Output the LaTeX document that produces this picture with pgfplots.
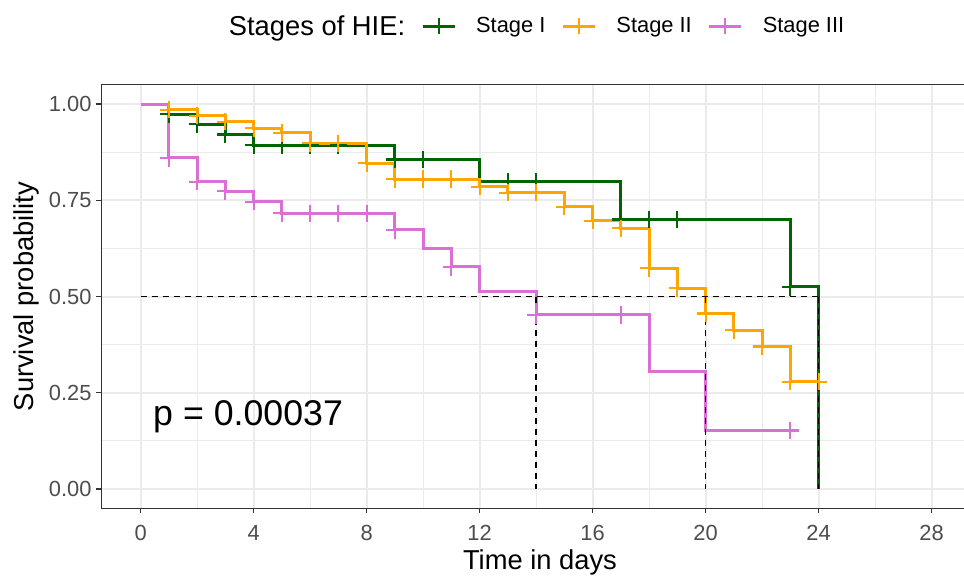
\documentclass[border=0pt]{standalone}
\usepackage{fontspec}
\setmainfont{Liberation Sans}
\usepackage{pgfplots}
\pgfplotsset{compat=1.18}
\definecolor{sI}{RGB}{0,100,0}
\definecolor{sII}{RGB}{255,165,0}
\definecolor{sIII}{RGB}{218,112,214}
\definecolor{gridc}{RGB}{235,235,235}
\definecolor{tickc}{RGB}{77,77,77}
\definecolor{axc}{RGB}{51,51,51}
\begin{document}
\begin{tikzpicture}
\useasboundingbox (-75.86pt,-51.56pt) rectangle (647.14pt,381.19pt);
\begin{axis}[
  scale only axis, width=652.5pt, height=317.6pt,
  xmin=-1.4, xmax=29.4, ymin=-0.05, ymax=1.05,
  xtick={0,4,...,28}, ytick={0,0.25,0.5,0.75,1},
  minor xtick={2,6,10,14,18,22,26}, minor ytick={0.125,0.375,0.625,0.875},
  grid=both,
  major grid style={draw=gridc, line width=1.5pt},
  minor grid style={draw=gridc, line width=0.9pt},
  tick align=outside, major tick length=3.75pt, minor tick length=0pt,
  xtick pos=left, ytick pos=left,
  tick style={axc, line width=0.9pt},
  axis line style={axc, line width=0.9pt},
  /pgf/number format/assume math mode=true,
  ticklabel style={font=\fontsize{16.4}{19}\selectfont, text=tickc},
  xticklabel style={yshift=-5.6pt},
  yticklabel style={/pgf/number format/.cd, fixed, fixed zerofill, precision=2},
  every axis x label/.style={at={(rel axis cs:0.5044,0)}, anchor=base, yshift=-46.3pt, font=\fontsize{20.5}{24}\selectfont},
  every axis y label/.style={at={(rel axis cs:0,0.5)}, xshift=-51.1pt, rotate=90, anchor=base, font=\fontsize{20.5}{24}\selectfont},
  xlabel={Time in days}, ylabel={Survival probability},
  legend image code/.code={\draw[mark repeat=2,mark phase=2,#1] plot coordinates {(0pt,0pt) (12pt,0pt) (24pt,0pt)};},
  legend columns=4,
  legend style={at={(rel axis cs:0.489,1.138)}, anchor=center, draw=none, fill=none,
    font=\fontsize{16.4}{19}\selectfont,
    nodes={inner sep=0pt},
    /tikz/every odd column/.append style={column sep=15pt},
    /tikz/every even column/.append style={column sep=12pt}},
  every axis plot/.append style={line width=2.25pt},
]
\addlegendimage{empty legend}
\addlegendentry{\fontsize{20.5}{24}\selectfont Stages of HIE:\hspace{-3pt}}
\addlegendimage{sI, line width=2.25pt, mark=+, mark size=6pt, mark options={line width=1.5pt}}
\addlegendentry{Stage I}
\addlegendimage{sII, line width=2.25pt, mark=+, mark size=6pt, mark options={line width=1.5pt}}
\addlegendentry{Stage II}
\addlegendimage{sIII, line width=2.25pt, mark=+, mark size=6pt, mark options={line width=1.5pt}}
\addlegendentry{Stage III}

% Stage I
\addplot[sI, const plot, forget plot] coordinates {
(0,1) (1,0.974) (2,0.948) (3,0.921) (4,0.893) (9,0.856) (12,0.798) (17,0.70) (23,0.525) (24,0)};
\addplot[sI, only marks, mark=+, mark size=6.5pt, mark options={line width=1.6pt}, forget plot] coordinates {
(1,0.974) (2,0.948) (3,0.921) (4,0.893) (5,0.893) (6,0.893) (7,0.893) (9,0.856) (10,0.856)
(13,0.798) (14,0.798) (17,0.70) (18,0.70) (19,0.70) (23,0.525)};

% Stage II
\addplot[sII, const plot, forget plot] coordinates {
(0,1) (1,0.985) (2,0.97) (3,0.954) (4,0.937) (5,0.925) (6,0.898) (8,0.846) (9,0.805) (12,0.785)
(13,0.77) (15,0.733) (16,0.697) (17,0.677) (18,0.573) (19,0.521) (20,0.456) (21,0.413) (22,0.37)
(23,0.279) (24,0.279)};
\addplot[sII, only marks, mark=+, mark size=6.5pt, mark options={line width=1.6pt}, forget plot] coordinates {
(1,0.985) (2,0.97) (3,0.954) (4,0.937) (5,0.925) (6,0.898) (7,0.898) (8,0.846) (9,0.805) (10,0.805)
(11,0.805) (12,0.785) (13,0.77) (14,0.77) (15,0.733) (16,0.697) (17,0.677) (18,0.573) (19,0.521)
(20,0.456) (21,0.413) (22,0.37) (23,0.279) (24,0.279)};

% Stage III
\addplot[sIII, const plot, forget plot] coordinates {
(0,1) (1,0.86) (2,0.798) (3,0.774) (4,0.746) (5,0.716) (9,0.673) (10,0.625) (11,0.577) (12,0.512)
(14,0.452) (18,0.305) (20,0.152) (23,0.152)};
\addplot[sIII, only marks, mark=+, mark size=6.5pt, mark options={line width=1.6pt}, forget plot] coordinates {
(1,0.86) (2,0.798) (3,0.774) (4,0.746) (5,0.716) (6,0.716) (7,0.716) (8,0.716) (9,0.673)
(11,0.577) (14,0.452) (17,0.452) (23,0.152)};

% median lines
\addplot[black, line width=1.2pt, dash pattern=on 4.5pt off 3.75pt, forget plot] coordinates {(0,0.5) (24,0.5)};
\addplot[black, line width=1.2pt, dash pattern=on 4.5pt off 3.75pt, forget plot] coordinates {(14,0.5) (14,0)};
\addplot[black, line width=1.2pt, dash pattern=on 4.5pt off 3.75pt, forget plot] coordinates {(20,0.5) (20,0)};
\addplot[black, line width=1.2pt, dash pattern=on 4.5pt off 3.75pt, forget plot] coordinates {(24,0.5) (24,0)};

\node[anchor=base west, inner sep=0pt, font=\fontsize{26.8}{30}\selectfont] at (axis cs:0.435,0.166) {p = 0.00037};
\end{axis}
\end{tikzpicture}
\end{document}
